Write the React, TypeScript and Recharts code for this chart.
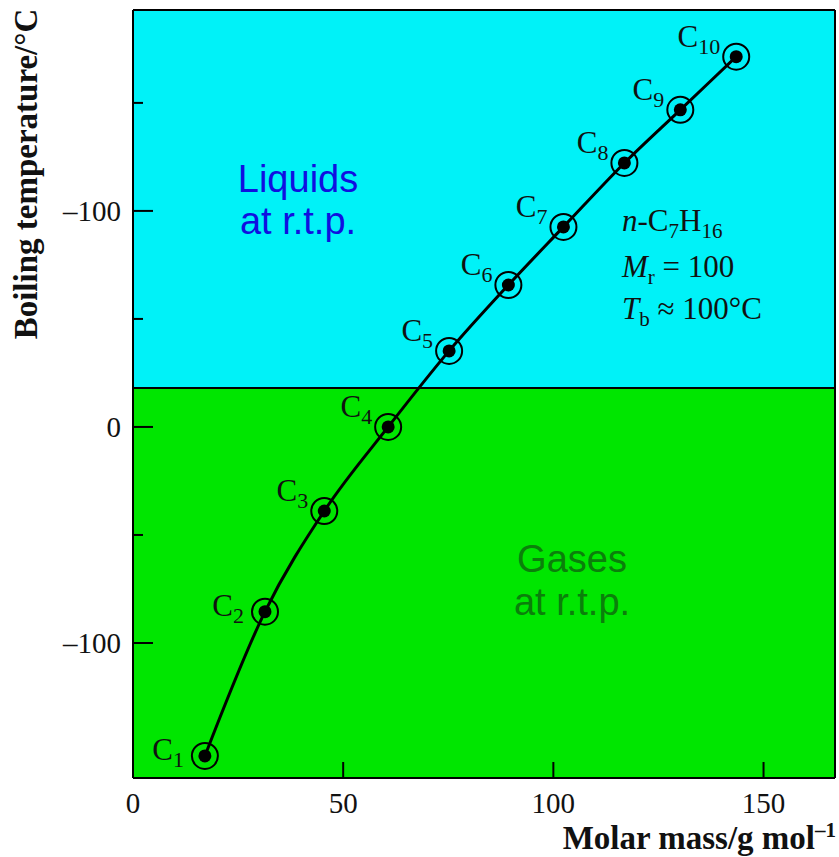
import React from 'react';
import {
  ComposedChart,
  Line,
  XAxis,
  YAxis,
  ReferenceArea,
  ReferenceLine,
  LabelList,
  Label,
} from 'recharts';

// ---- Data ----
const carbonNumbers = [1, 2, 3, 4, 5, 6, 7, 8, 9, 10];
const molarMass = [17.1, 31.4, 45.5, 60.7, 75.2, 89.3, 102.4, 116.9, 130.2, 143.5];
const boilingTemp = [-152.3, -85.5, -38.9, 0, 35.2, 65.7, 92.6, 122.2, 146.8, 171.4];

const xTicks = [0, 50, 100, 150];
const xTickLabels = ['0', '50', '100', '150'];
const yTicks = [-100, -50, 0, 50, 100, 150];
const yTickLabels: Record<number, string> = { 100: '–100', 0: '0', [-100]: '–100' };

const phaseBoundary = 18; // °C separating gases/liquids at r.t.p.
const xDomain = [0, 167];
const yDomain = [-162.5, 193];

const data = carbonNumbers.map((n, i) => ({
  n,
  m: molarMass[i],
  t: boilingTemp[i],
}));

const SERIF = '"Liberation Serif", "Times New Roman", serif';
const SANS = '"Liberation Sans", Arial, sans-serif';

const CYAN = '#00f2f8';
const GREEN = '#00e600';

const renderDot = (props: any) => {
  const { cx, cy, index } = props;
  if (cx == null || cy == null) return <g key={`d${index}`} />;
  return (
    <g key={`d${index}`}>
      <circle cx={cx} cy={cy} r={13} fill="none" stroke="#000" strokeWidth={2} />
      <circle cx={cx} cy={cy} r={6.5} fill="#000" />
    </g>
  );
};

const renderLabel = (props: any) => {
  const { x, y, value, index } = props;
  const low = index < 2;
  const tx = x - (low ? 21 : 16);
  const ty = y + (low ? 4 : -10);
  return (
    <text
      key={`l${index}`}
      x={tx}
      y={ty}
      textAnchor="end"
      fontFamily={SERIF}
      fontSize={31}
      fill="#111"
    >
      C
      <tspan dy={7} fontSize={22}>
        {value}
      </tspan>
    </text>
  );
};

const YTick = (props: any) => {
  const { y, payload } = props;
  const v = payload.value;
  const label = yTickLabels[v];
  const plotLeft = 133;
  const len = label !== undefined ? 20 : 10;
  return (
    <g>
      <line x1={plotLeft} x2={plotLeft + len} y1={y} y2={y} stroke="#000" strokeWidth={2} />
      {label !== undefined && (
        <text x={121} y={y + 10} textAnchor="end" fontFamily={SERIF} fontSize={29} fill="#111">
          {label}
        </text>
      )}
    </g>
  );
};

const XTick = (props: any) => {
  const { x, payload } = props;
  const plotBottom = 778;
  const v = payload.value;
  return (
    <g>
      {v !== 0 && (
        <line x1={x} x2={x} y1={plotBottom} y2={plotBottom - 16} stroke="#000" strokeWidth={2} />
      )}
      <text x={x} y={plotBottom + 35} textAnchor="middle" fontFamily={SERIF} fontSize={29} fill="#111">
        {xTickLabels[xTicks.indexOf(v)] ?? String(v)}
      </text>
    </g>
  );
};

export default function App() {
  return (
    <div style={{ position: 'absolute', left: 0, top: 0, width: 839, height: 857, background: '#fff' }}>
      <ComposedChart
        width={839}
        height={857}
        data={data}
        margin={{ top: 10, right: 4, bottom: 0, left: 0 }}
      >
        <ReferenceArea
          x1={xDomain[0]}
          x2={xDomain[1]}
          y1={phaseBoundary}
          y2={yDomain[1]}
          fill={CYAN}
          fillOpacity={1}
          stroke="none"
          ifOverflow="hidden"
          label={{
            content: (p: any) => {
              const vb = p.viewBox;
              const cx = vb.x + 165;
              return (
                <g>
                  <text x={cx} y={vb.y + 182} textAnchor="middle" fontFamily={SANS} fontSize={38} fill="#1010e0">
                    Liquids
                  </text>
                  <text x={cx} y={vb.y + 224} textAnchor="middle" fontFamily={SANS} fontSize={38} fill="#1010e0">
                    at r.t.p.
                  </text>
                </g>
              );
            },
          }}
        />
        <ReferenceArea
          x1={xDomain[0]}
          x2={xDomain[1]}
          y1={yDomain[0]}
          y2={phaseBoundary}
          fill={GREEN}
          fillOpacity={1}
          stroke="none"
          ifOverflow="hidden"
          label={{
            content: (p: any) => {
              const vb = p.viewBox;
              const cx = vb.x + 439;
              return (
                <g>
                  <text x={cx} y={vb.y + 184} textAnchor="middle" fontFamily={SANS} fontSize={38} fill="#0b7f0b">
                    Gases
                  </text>
                  <text x={cx} y={vb.y + 227} textAnchor="middle" fontFamily={SANS} fontSize={38} fill="#0b7f0b">
                    at r.t.p.
                  </text>
                </g>
              );
            },
          }}
        />
        <ReferenceLine y={phaseBoundary} stroke="#000" strokeWidth={2} />
        <XAxis
          type="number"
          dataKey="m"
          domain={xDomain}
          ticks={xTicks}
          allowDataOverflow
          height={79}
          axisLine={{ stroke: '#000', strokeWidth: 2 }}
          tickLine={false}
          tick={<XTick />}
          interval={0}
        >
          <Label
            content={() => (
              <text x={836} y={849} textAnchor="end" fontFamily={SERIF} fontWeight="bold" fontSize={33} fill="#111">
                Molar mass/g mol
                <tspan dy={-12} fontSize={21}>–1</tspan>
              </text>
            )}
          />
        </XAxis>
        <YAxis
          type="number"
          dataKey="t"
          domain={yDomain}
          ticks={yTicks}
          allowDataOverflow
          width={133}
          axisLine={{ stroke: '#000', strokeWidth: 2 }}
          tickLine={false}
          tick={<YTick />}
          interval={0}
        >
          <Label
            content={() => (
              <text
                x={0}
                y={0}
                transform="translate(37,174) rotate(-90)"
                textAnchor="middle"
                fontFamily={SERIF}
                fontWeight="bold"
                fontSize={33}
                fill="#111"
              >
                Boiling temperature/°C
              </text>
            )}
          />
        </YAxis>
        <ReferenceLine x={xDomain[1]} stroke="#000" strokeWidth={2} ifOverflow="extendDomain" />
        <ReferenceLine y={yDomain[1]} stroke="#000" strokeWidth={2} />
        <Line
          type="monotone"
          dataKey="t"
          stroke="#000"
          strokeWidth={3}
          dot={renderDot}
          activeDot={false}
          isAnimationActive={false}
        >
          <LabelList dataKey="n" content={renderLabel} />
        </Line>
        <ReferenceArea
          x1={xDomain[0]}
          x2={xDomain[1]}
          y1={yDomain[0]}
          y2={yDomain[1]}
          fill="none"
          stroke="none"
          label={{
            content: (p: any) => {
              const vb = p.viewBox;
              const x0 = vb.x + 489;
              return (
                <g fontFamily={SERIF} fontSize={31} fill="#111">
                  <text x={x0} y={231}>
                    <tspan fontStyle="italic">n</tspan>-C
                    <tspan dy={7} fontSize={21}>7</tspan>
                    <tspan dy={-7}>H</tspan>
                    <tspan dy={7} fontSize={21}>16</tspan>
                  </text>
                  <text x={x0} y={277}>
                    <tspan fontStyle="italic">M</tspan>
                    <tspan dy={7} fontSize={21}>r</tspan>
                    <tspan dy={-7}> = 100</tspan>
                  </text>
                  <text x={x0} y={319}>
                    <tspan fontStyle="italic">T</tspan>
                    <tspan dy={7} fontSize={21}>b</tspan>
                    <tspan dy={-7}> ≈ 100°C</tspan>
                  </text>
                </g>
              );
            },
          }}
        />
      </ComposedChart>
    </div>
  );
}
